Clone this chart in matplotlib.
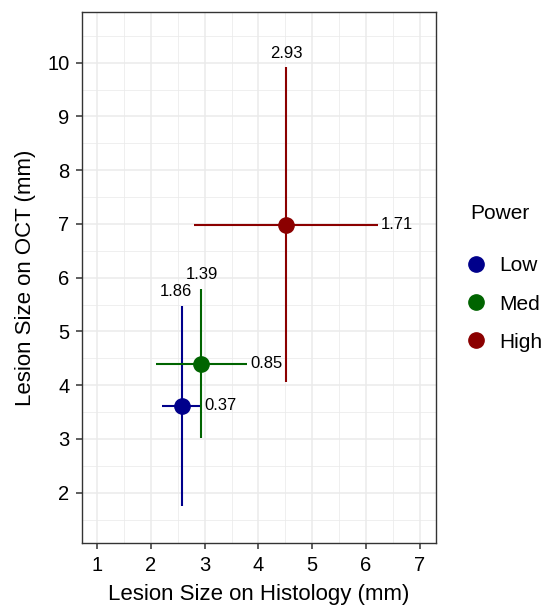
import matplotlib
matplotlib.use("Agg")
import matplotlib.pyplot as plt
from matplotlib.lines import Line2D

plt.rcParams['font.family'] = ['Liberation Sans', 'DejaVu Sans']

power = ['Low', 'Med', 'High']
histo = [2.57, 2.94, 4.51]
oct_size = [3.62, 4.40, 6.98]
histo_err = [0.37, 0.85, 1.71]
oct_err = [1.86, 1.39, 2.93]
colors = ['#00008B', '#006400', '#8B0000']

fig = plt.figure(figsize=(5.43, 6.09), dpi=100)
ax = fig.add_axes([0.151, 0.108, 0.652, 0.873])

for i in range(len(power)):
    ax.errorbar(histo[i], oct_size[i], xerr=histo_err[i], yerr=oct_err[i],
                fmt='o', color=colors[i], ms=11, elinewidth=1.5, capsize=0, zorder=3)
    # y error label above the vertical bar
    ax.annotate(f'{oct_err[i]:.2f}', (histo[i], oct_size[i] + oct_err[i]),
                xytext=(-4 if i == 0 else 0, 5), textcoords='offset points',
                ha='center', va='bottom', fontsize=12)
    # x error label right of the horizontal bar
    ax.annotate(f'{histo_err[i]:.2f}', (histo[i] + histo_err[i], oct_size[i]),
                xytext=(2, 0), textcoords='offset points',
                ha='left', va='center', fontsize=12)

ax.set_xticks(range(1, 8))
ax.set_yticks(range(2, 11))
ax.set_xticks([x + 0.5 for x in range(0, 8)], minor=True)
ax.set_yticks([y + 0.5 for y in range(1, 11)], minor=True)
ax.set_xlim(0.72, 7.3)
ax.set_ylim(1.06, 10.95)
ax.grid(which='major', color='#EBEBEB', lw=1.1, zorder=0)
ax.grid(which='minor', color='#EBEBEB', lw=0.55, zorder=0)
ax.set_axisbelow(True)
ax.tick_params(which='major', labelsize=14.5, length=4, width=1.1, color='#333333',
               labelcolor='black', pad=5)
ax.tick_params(which='minor', length=0)
for s in ax.spines.values():
    s.set_color('#333333')
    s.set_linewidth(1)

ax.set_xlabel('Lesion Size on Histology (mm)', fontsize=16, labelpad=7)
ax.set_ylabel('Lesion Size on OCT (mm)', fontsize=16, labelpad=8)

handles = [Line2D([], [], marker='o', ls='', color=c, ms=11) for c in colors]
leg = fig.legend(handles, power, title='Power', loc='upper left',
                 bbox_to_anchor=(470 / 543, 1 - 204 / 609), frameon=False,
                 fontsize=15, title_fontsize=15, labelspacing=0.92,
                 handlelength=0.6, handletextpad=0.8, borderpad=0,
                 borderaxespad=0, alignment='left')
leg._legend_box.sep = 24

fig.savefig('out.png', dpi=100)
